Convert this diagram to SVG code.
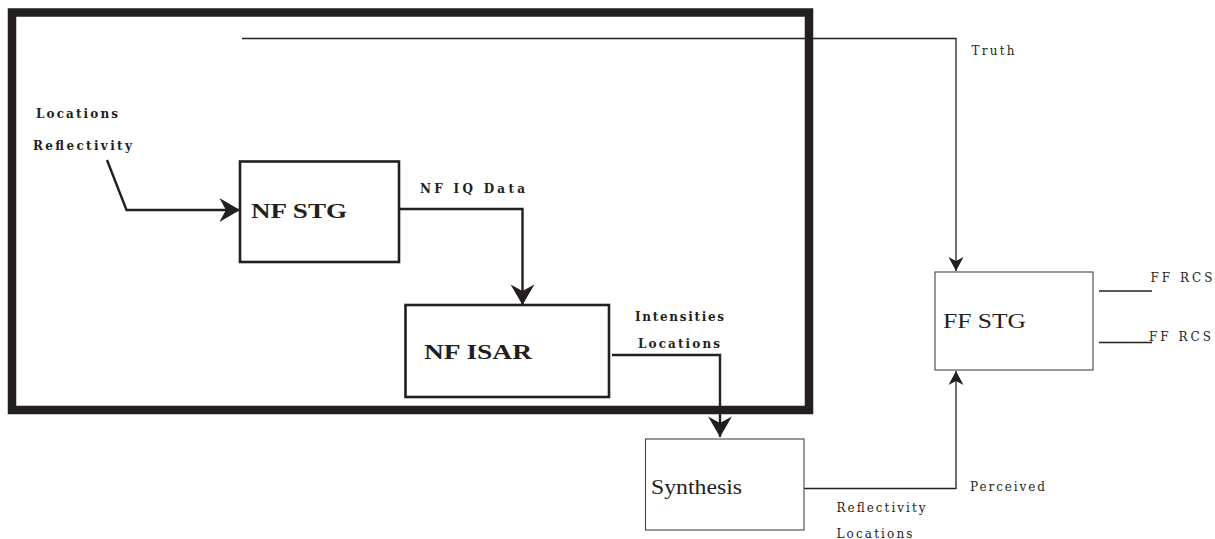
<svg xmlns="http://www.w3.org/2000/svg" width="1215" height="539" viewBox="0 0 1215 539">
<defs>
<style>
.thick{fill:none;stroke:#231f20;stroke-width:2.4}
.thin{fill:none;stroke:#231f20;stroke-width:1.3}
.box{fill:#fff;stroke:#231f20;stroke-width:2.6}
.tbox{fill:#fff;stroke:#444;stroke-width:1.1}
.bl{font-family:"DejaVu Serif","Liberation Serif",serif;font-weight:bold;font-size:12px;fill:#231f20}
.big{font-family:"Liberation Serif","DejaVu Serif",serif;font-weight:bold;font-size:21px;fill:#231f20}
.rg{font-family:"Liberation Serif","DejaVu Serif",serif;font-size:20px;fill:#231f20}
.sm{font-family:"DejaVu Serif","Liberation Serif",serif;font-size:12px;fill:#231f20}
</style>
<marker id="ab" markerUnits="userSpaceOnUse" markerWidth="24" markerHeight="26" viewBox="-20 -12 22 24" refX="0" refY="0" orient="auto">
<path d="M0,0 L-19,-11 L-13,0 L-19,11 Z" fill="#231f20"/>
</marker>
<marker id="as" markerUnits="userSpaceOnUse" markerWidth="18" markerHeight="18" viewBox="-15 -9 17 18" refX="0" refY="0" orient="auto">
<path d="M0,0 L-14,-7.5 L-10,0 L-14,7.5 Z" fill="#231f20"/>
</marker>
</defs>
<rect x="12" y="12.5" width="797" height="397.5" fill="none" stroke="#231f20" stroke-width="8.5"/>
<g id="connectors">
<polyline class="thin" points="242,38.5 956,38.5 956,271" marker-end="url(#as)"/>
<polyline class="thick" points="107,160 126.5,210 240,210" marker-end="url(#ab)"/>
<polyline class="thick" points="399,209 522.5,209 522.5,305" marker-end="url(#ab)"/>
<polyline class="thick" points="612,355 720,355 720,437" marker-end="url(#ab)"/>
<polyline class="thin" points="804,488.5 956,488.5 956,371" marker-end="url(#as)"/>
<line class="thin" x1="1099" y1="291" x2="1152" y2="291"/>
<line class="thin" x1="1099" y1="342.5" x2="1152" y2="342.5"/>
</g>
<g id="labels">
<text class="bl" x="36" y="118" textLength="82" lengthAdjust="spacing">Locations</text>
<text class="bl" x="33" y="150" textLength="99" lengthAdjust="spacing">Reflectivity</text>
<text class="bl" x="420" y="193" textLength="105" lengthAdjust="spacing">NF IQ Data</text>
<text class="bl" x="635" y="321" textLength="89" lengthAdjust="spacing">Intensities</text>
<text class="bl" x="638" y="347.5" textLength="82" lengthAdjust="spacing">Locations</text>
<text class="sm" x="971.5" y="55" textLength="43" lengthAdjust="spacing">Truth</text>
<text class="sm" x="1150.5" y="282" textLength="62" lengthAdjust="spacing">FF RCS</text>
<text class="sm" x="1149" y="341" textLength="62" lengthAdjust="spacing">FF RCS</text>
<text class="sm" x="970" y="491" textLength="75" lengthAdjust="spacing">Perceived</text>
<text class="sm" x="836.5" y="512" textLength="89" lengthAdjust="spacing">Reflectivity</text>
<text class="sm" x="836.5" y="537.5" textLength="76" lengthAdjust="spacing">Locations</text>
</g>
<g id="nf-stg">
<rect class="box" x="240" y="161.5" width="159" height="100.5"/>
<text class="big" x="251" y="218" textLength="96" lengthAdjust="spacingAndGlyphs">NF STG</text>
</g>
<g id="nf-isar">
<rect class="box" x="405.5" y="305" width="203.5" height="92"/>
<text class="big" x="424" y="359" textLength="108" lengthAdjust="spacingAndGlyphs">NF ISAR</text>
</g>
<g id="synthesis">
<rect class="tbox" x="645.5" y="439" width="158.5" height="91"/>
<text class="rg" x="651" y="494" textLength="91" lengthAdjust="spacingAndGlyphs">Synthesis</text>
</g>
<g id="ff-stg">
<rect class="tbox" x="935" y="272" width="158" height="98"/>
<text class="rg" x="943" y="328" textLength="83" lengthAdjust="spacingAndGlyphs">FF STG</text>
</g>
</svg>
